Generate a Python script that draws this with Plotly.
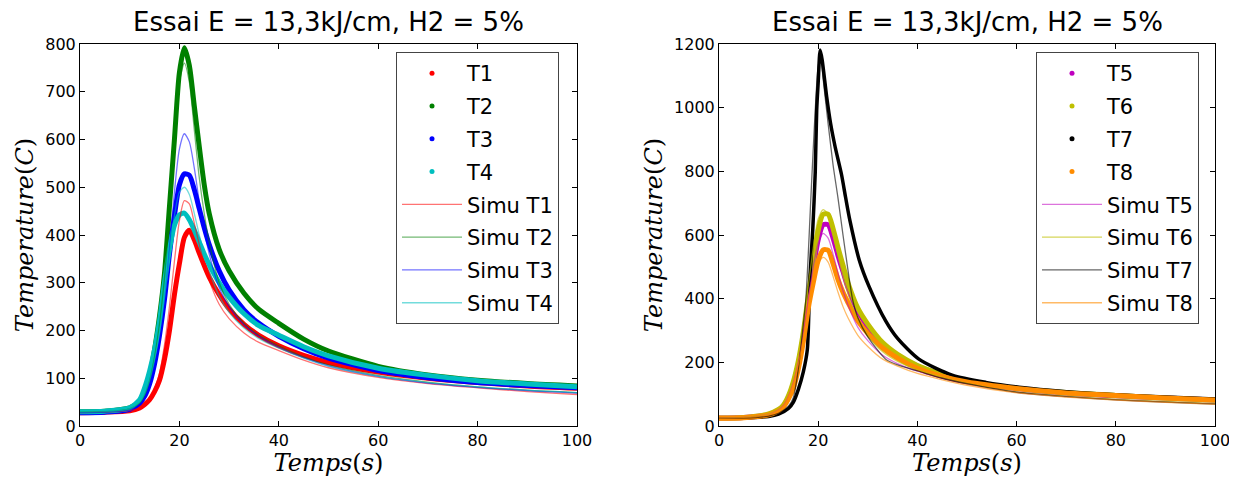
import plotly.graph_objects as go

# ---------------- data ----------------
time_s = [0, 5, 10, 12, 13, 14, 15, 16, 17, 18, 19, 20, 21, 22, 23, 24, 25, 26,
          28, 30, 33, 36, 40, 45, 50, 60, 70, 80, 90, 100]

T1 = [28, 29, 32, 38, 45, 55, 72, 96, 140, 200, 275, 340, 395, 410, 390, 362, 336, 312,
      275, 245, 213, 190, 168, 148, 133, 113, 100, 91, 84, 79]
T2 = [30, 31, 38, 52, 72, 105, 160, 230, 320, 460, 600, 740, 792, 755, 670, 585, 505, 445,
      370, 325, 278, 244, 215, 182, 157, 125, 107, 96, 89, 84]
T3 = [28, 29, 35, 48, 62, 88, 130, 190, 265, 360, 440, 505, 528, 525, 495, 455, 415, 380,
      325, 285, 243, 215, 188, 162, 142, 116, 101, 91, 85, 80]
T4 = [30, 31, 38, 55, 80, 115, 160, 220, 300, 370, 420, 442, 446, 432, 410, 385, 360, 338,
      300, 270, 235, 210, 190, 166, 147, 121, 106, 95, 88, 82]
Simu_T1 = [28, 29, 32, 38, 45, 57, 78, 110, 170, 250, 345, 430, 472, 465, 425, 380, 340, 305,
           255, 225, 195, 175, 158, 138, 122, 102, 89, 80, 72, 66]
Simu_T2 = [29, 30, 36, 48, 65, 95, 145, 215, 310, 440, 590, 720, 760, 720, 620, 520, 445, 385,
           300, 255, 215, 190, 168, 145, 128, 106, 92, 82, 75, 70]
Simu_T3 = [28, 29, 34, 45, 58, 82, 122, 180, 260, 370, 490, 580, 612, 595, 540, 470, 410, 360,
           290, 250, 212, 188, 165, 143, 126, 104, 90, 81, 74, 69]
Simu_T4 = [29, 30, 36, 50, 66, 95, 138, 195, 270, 360, 440, 490, 500, 485, 445, 400, 360, 325,
           272, 238, 205, 183, 163, 142, 125, 104, 91, 82, 75, 70]

T5 = [25, 27, 36, 50, 63, 90, 133, 195, 280, 390, 495, 585, 632, 632, 590, 535, 485, 435,
      360, 312, 258, 222, 188, 160, 140, 118, 104, 95, 88, 82]
T6 = [25, 27, 38, 52, 66, 95, 140, 205, 295, 410, 520, 615, 665, 665, 620, 560, 505, 450,
      370, 320, 262, 225, 190, 162, 141, 119, 105, 96, 88, 82]
T8 = [24, 26, 35, 48, 60, 85, 120, 180, 265, 370, 450, 520, 553, 552, 510, 460, 420, 388,
      330, 291, 245, 213, 181, 156, 138, 118, 104, 96, 88, 82]
Simu_T5 = [25, 27, 37, 52, 66, 96, 140, 205, 295, 400, 500, 575, 605, 590, 540, 480, 425, 380,
           310, 268, 222, 196, 172, 150, 132, 106, 93, 83, 76, 70]
Simu_T6 = [25, 27, 38, 54, 70, 102, 150, 220, 320, 440, 560, 650, 680, 665, 605, 535, 470, 415,
           335, 285, 233, 203, 177, 153, 134, 107, 94, 84, 77, 71]
Simu_T8 = [24, 26, 36, 50, 64, 92, 135, 195, 275, 365, 450, 510, 530, 515, 470, 420, 375, 340,
           285, 250, 210, 188, 165, 145, 128, 104, 91, 81, 74, 68]

time_T7 = [0, 5, 10, 12, 14, 15, 16, 17, 17.8, 18.3, 18.9, 19.4, 19.7, 20.0, 20.4, 20.8, 21.7,
           22.5, 23.4, 24.7, 25.5, 26.4, 28.3, 30.2, 33.6, 36, 40.3, 47, 53.8, 60.5, 70, 80, 90, 100]
T7 = [24, 25, 30, 37, 55, 75, 115, 170, 239, 459, 616, 795, 993, 1080, 1181, 1150, 1035,
      950, 878, 790, 720, 645, 520, 440, 330, 275, 210, 160, 137, 122, 108, 98, 91, 85]
time_simu_T7 = [0, 5, 10, 12, 14, 15, 16, 17, 17.5, 18, 18.5, 19, 19.5, 20, 20.5, 21, 22, 23,
                24, 25, 26, 26.9, 28, 30, 33.6, 36, 40.3, 45, 50, 60, 70, 80, 90, 100]
Simu_T7 = [24, 25, 31, 40, 62, 90, 180, 320, 396, 540, 710, 870, 1020, 1130, 1160, 1090, 950, 820,
           715, 600, 490, 400, 340, 280, 210, 192, 172, 150, 133, 106, 92, 82, 75, 69]

x_ticks = [0, 20, 40, 60, 80, 100]
y_ticks_left = [0, 100, 200, 300, 400, 500, 600, 700, 800]
y_ticks_right = [0, 200, 400, 600, 800, 1000, 1200]
title_text = "Essai E = 13,3kJ/cm, H2 = 5%"

# ---------------- styles ----------------
col = {"T1": "#ff0000", "T2": "#008000", "T3": "#0000ff", "T4": "#00bfbf",
       "T5": "#bf00bf", "T6": "#bfbf00", "T7": "#000000", "T8": "#ff8c00"}
simu_col = {"T1": "rgba(255,0,0,0.55)", "T2": "rgba(0,128,0,0.55)",
            "T3": "rgba(0,0,255,0.55)", "T4": "rgba(0,191,191,0.55)",
            "T5": "rgba(191,0,191,0.55)", "T6": "rgba(191,191,0,0.65)",
            "T7": "rgba(0,0,0,0.6)", "T8": "rgba(255,140,0,0.6)"}

fig = go.Figure()

def add_measured(x, y, key, xa, ya, leg, width=5):
    fig.add_trace(go.Scatter(x=x, y=y, mode="lines", name=key, xaxis=xa, yaxis=ya,
                             line=dict(color=col[key], width=width, shape="spline", smoothing=0.7),
                             showlegend=False))
    # legend entry (dots, as in the reference)
    fig.add_trace(go.Scatter(x=[None], y=[None], mode="markers", name=key, xaxis=xa, yaxis=ya,
                             marker=dict(color=col[key], size=5), legend=leg,
                             legendgroup=key + leg))

def add_simu(x, y, key, xa, ya, leg):
    fig.add_trace(go.Scatter(x=x, y=y, mode="lines", name="Simu " + key, xaxis=xa, yaxis=ya,
                             line=dict(color=simu_col[key], width=1.3, shape="spline", smoothing=0.7),
                             legend=leg, legendgroup="S" + key + leg))

add_measured(time_s, T1, "T1", "x", "y", "legend")
add_measured(time_s, T2, "T2", "x", "y", "legend")
add_measured(time_s, T3, "T3", "x", "y", "legend")
add_measured(time_s, T4, "T4", "x", "y", "legend")
add_simu(time_s, Simu_T1, "T1", "x", "y", "legend")
add_simu(time_s, Simu_T2, "T2", "x", "y", "legend")
add_simu(time_s, Simu_T3, "T3", "x", "y", "legend")
add_simu(time_s, Simu_T4, "T4", "x", "y", "legend")

add_measured(time_s, T5, "T5", "x2", "y2", "legend2")
add_measured(time_s, T6, "T6", "x2", "y2", "legend2")
add_measured(time_T7, T7, "T7", "x2", "y2", "legend2", width=3.5)
add_measured(time_s, T8, "T8", "x2", "y2", "legend2")
add_simu(time_s, Simu_T5, "T5", "x2", "y2", "legend2")
add_simu(time_s, Simu_T6, "T6", "x2", "y2", "legend2")
add_simu(time_simu_T7, Simu_T7, "T7", "x2", "y2", "legend2")
add_simu(time_s, Simu_T8, "T8", "x2", "y2", "legend2")

# The page body has an 8px margin: the figure is drawn 8px smaller and all
# reference pixel positions are shifted by that offset.
OFF = 8
W, H = 1237 - OFF, 477 - OFF
ML, MR, MT, MB = 80 - OFF, 22, 44 - OFF, 51
PW = W - ML - MR
PH = H - MT - MB

def px_x(p):
    return (p - OFF - ML) / PW

def px_y(p):
    return 1 - (p - OFF - MT) / PH

tickfont = dict(family="DejaVu Sans", size=16, color="black")
axis_common = dict(showline=True, linecolor="black", linewidth=1, mirror="allticks",
                   ticks="inside", ticklen=5, tickcolor="black", showgrid=False,
                   zeroline=False, tickfont=tickfont, automargin=False)
xtitle = dict(text="<i>Temps</i>(<i>s</i>)",
              font=dict(family="DejaVu Serif", size=24, color="black"), standoff=2)
ytitle = dict(text="<i>Temperature</i>(<i>C</i>)",
              font=dict(family="DejaVu Serif", size=24, color="black"), standoff=4)

legend_common = dict(bgcolor="white", bordercolor="#444444", borderwidth=1,
                     font=dict(family="DejaVu Sans", size=21, color="black"),
                     traceorder="grouped", tracegroupgap=2.5, itemwidth=60,
                     xanchor="left", yanchor="top")

fig.update_layout(
    width=W, height=H, paper_bgcolor="white", plot_bgcolor="white",
    margin=dict(l=ML, r=MR, t=MT, b=MB),
    xaxis=dict(domain=[px_x(80), px_x(577)], range=[0, 100], tickvals=x_ticks, anchor="y",
               title=xtitle, **axis_common),
    yaxis=dict(domain=[0, 1], range=[0, 800], tickvals=y_ticks_left, anchor="x",
               title=ytitle, **axis_common),
    xaxis2=dict(domain=[px_x(719), px_x(1215)], range=[0, 100], tickvals=x_ticks, anchor="y2",
                title=xtitle, **axis_common),
    yaxis2=dict(domain=[0, 1], range=[0, 1200], tickvals=y_ticks_right, anchor="x2",
                title=ytitle, **axis_common),
    legend=dict(x=px_x(396), y=px_y(52), **legend_common),
    legend2=dict(x=px_x(1036), y=px_y(52), **legend_common),
    annotations=[
        dict(text=title_text, x=px_x((80 + 577) / 2), y=px_y(22), xref="paper", yref="paper",
             showarrow=False, font=dict(family="DejaVu Sans", size=26, color="black"),
             xanchor="center", yanchor="middle"),
        dict(text=title_text, x=px_x((719 + 1215) / 2), y=px_y(22), xref="paper", yref="paper",
             showarrow=False, font=dict(family="DejaVu Sans", size=26, color="black"),
             xanchor="center", yanchor="middle"),
    ],
    showlegend=True,
)

fig.write_html("out.html")
